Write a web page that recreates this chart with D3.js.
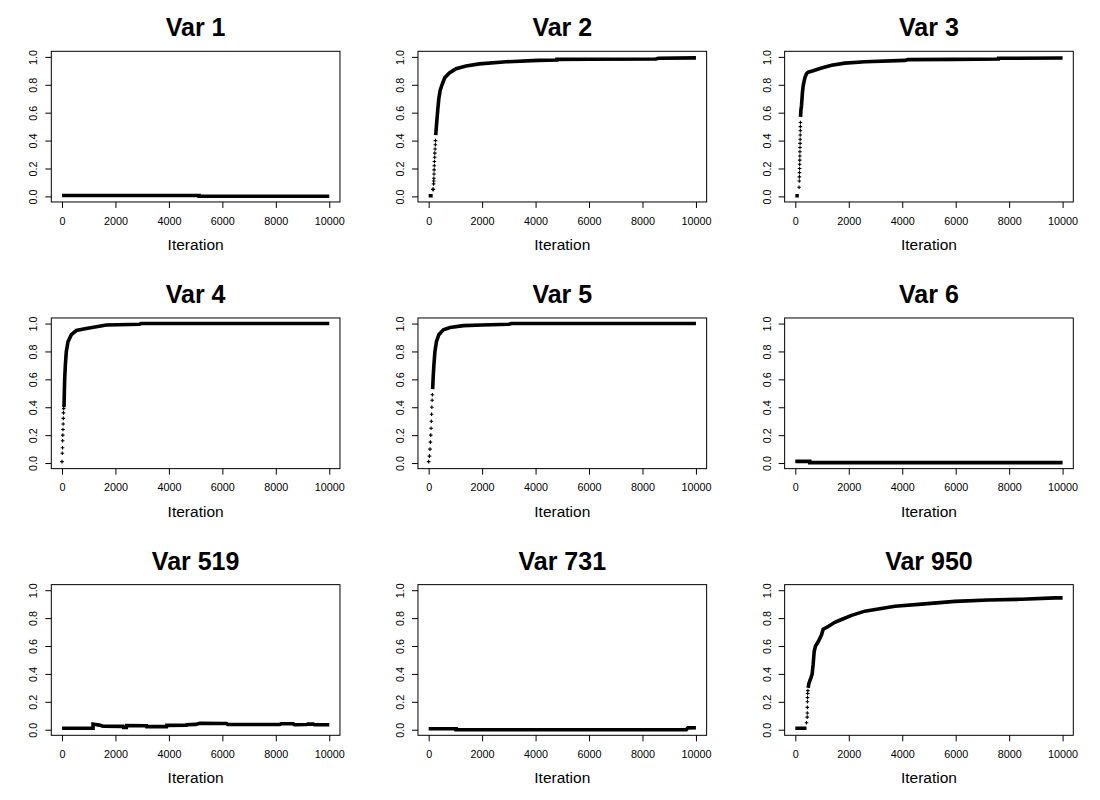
<!DOCTYPE html>
<html>
<head>
<title>Trace plots</title>
<script src="https://d3js.org/d3.v7.min.js"></script>
<style type="text/css">
	body{ margin:0; background:white; }
	text{ font-family: "Liberation Sans", Arial, sans-serif; fill:black; }
	.title{ font-size:25px; font-weight:bold; }
	.tick text{ font-size:10.8px; }
	.xlab{ font-size:15.5px; }
	.box{ fill:none; stroke:black; stroke-width:1; }
	.trace{ fill:none; stroke:black; stroke-width:3.6; }
	.jump{ fill:none; stroke:black; stroke-width:1.1; }
</style>
</head>
<body>
<svg id="grid" width="1100" height="800"></svg>
<script>
// panel titles and axis ticks
var titles = ["Var 1", "Var 2", "Var 3", "Var 4", "Var 5", "Var 6", "Var 519", "Var 731", "Var 950"];
var xTicks = [0, 2000, 4000, 6000, 8000, 10000];
var yTicks = [0, 0.2, 0.4, 0.6, 0.8, 1.0];

// [iteration, value]; null breaks the thick trace
var var1Trace = [[0,0.006],[5130,0.006],[5130,0.001],[10000,0.001]];
var var1Jumps = [];

var var2Trace = [[0,0.005],[150,0.005],null,[265,0.44],[280,0.48],[310,0.55],[340,0.62],[380,0.70],[430,0.76],
	[500,0.80],[600,0.85],[775,0.885],[1025,0.915],[1400,0.935],[1900,0.95],[2900,0.965],[4100,0.975],
	[4800,0.978],[4800,0.982],[6000,0.983],[8500,0.985],[8600,0.99],[10000,0.993]];
var var2Jumps = [[160,0.05],[175,0.05],[185,0.09],[190,0.11],[195,0.13],[200,0.16],[205,0.19],[210,0.22],
	[215,0.25],[225,0.28],[230,0.31],[240,0.34],[250,0.37],[255,0.40]];

var var3Trace = [[0,0.005],[131,0.005],null,[195,0.57],[210,0.62],[231,0.65],[268,0.75],[300,0.80],[356,0.85],
	[420,0.88],[481,0.89],[668,0.90],[980,0.92],[1356,0.94],[1854,0.955],[2603,0.965],[4101,0.975],
	[4200,0.98],[5974,0.982],[7596,0.985],[7600,0.99],[10000,0.992]];
var var3Jumps = [[140,0.065],[148,0.11],[152,0.14],[156,0.17],[160,0.20],[163,0.23],[166,0.26],[169,0.29],
	[172,0.32],[175,0.35],[178,0.38],[181,0.41],[184,0.44],[187,0.47],[190,0.50],[193,0.53]];

var var4Trace = [[75,0.40],[87,0.50],[100,0.60],[125,0.70],[162,0.80],[225,0.87],[350,0.92],[537,0.95],
	[911,0.965],[1660,0.99],[2900,0.995],[2950,1.0],[10000,1.0]];
var var4Jumps = [[0,0.01],[12,0.07],[20,0.11],[25,0.16],[30,0.20],[37,0.24],[45,0.28],[50,0.32],[56,0.36],[62,0.39]];

var var5Trace = [[150,0.53],[170,0.62],[195,0.70],[235,0.80],[290,0.87],[380,0.92],[550,0.955],[800,0.972],
	[1300,0.985],[2000,0.99],[3000,0.995],[3100,1.0],[10000,1.0]];
var var5Jumps = [[0,0.01],[30,0.05],[50,0.10],[65,0.15],[80,0.20],[90,0.25],[100,0.30],[110,0.35],[120,0.40],
	[130,0.45],[140,0.49]];

var var6Trace = [[0,0.012],[540,0.012],[540,0.003],[10000,0.003]];
var var6Jumps = [];

var var519Trace = [[0,0.01],[1161,0.01],[1161,0.04],[1250,0.038],[1400,0.033],[1536,0.025],[2285,0.024],
	[2300,0.017],[2410,0.017],[2420,0.03],[3161,0.029],[3170,0.022],[3910,0.022],[3920,0.031],[4659,0.032],
	[4670,0.036],[5000,0.038],[5157,0.046],[6157,0.045],[6200,0.037],[8154,0.037],[8200,0.043],[8652,0.043],
	[8700,0.036],[9154,0.037],[9200,0.041],[9400,0.04],[9450,0.036],[10000,0.036]];
var var519Jumps = [];

var var731Trace = [[0,0.007],[1025,0.007],[1025,0.0],[9640,0.0],[9700,0.013],[10000,0.014]];
var var731Jumps = [];

var var950Trace = [[0,0.01],[418,0.01],null,[481,0.30],[506,0.33],[560,0.36],[581,0.37],[630,0.40],[668,0.47],
	[705,0.56],[755,0.60],[855,0.63],[980,0.68],[1042,0.72],[1230,0.74],[1479,0.77],[1729,0.79],[2104,0.82],
	[2603,0.85],[3102,0.865],[3727,0.885],[4725,0.90],[5974,0.92],[7222,0.93],[8470,0.935],[9719,0.945],[10000,0.945]];
var var950Jumps = [[418,0.05],[443,0.09],[448,0.12],[450,0.16],[453,0.20],[456,0.23],[460,0.26],[470,0.28]];

var traces = [var1Trace, var2Trace, var3Trace, var4Trace, var5Trace, var6Trace, var519Trace, var731Trace, var950Trace];
var jumps = [var1Jumps, var2Jumps, var3Jumps, var4Jumps, var5Jumps, var6Jumps, var519Jumps, var731Jumps, var950Jumps];

var svg = d3.select("#grid");
var cellW = 1100 / 3, cellH = 800 / 3;
var margin = { top: 51.3, right: 26.7, bottom: 64.7, left: 51.3 };
var w = cellW - margin.left - margin.right;
var h = cellH - margin.top - margin.bottom;

// R pads the range by 4% on each side
var x = d3.scaleLinear().domain([-400, 10400]).range([0, w]);
var y = d3.scaleLinear().domain([-0.04, 1.04]).range([h, 0]);

var line = d3.line()
	.defined(function(d){ return d != null; })
	.x(function(d){ return x(d[0]); })
	.y(function(d){ return y(d[1]); });

titles.forEach(function(t, i){
	var col = i % 3, row = Math.floor(i / 3);
	var g = svg.append("g")
		.attr("transform", "translate(" + (col * cellW + margin.left) + "," + (row * cellH + margin.top) + ")");

	g.append("path")
		.datum(traces[i])
		.attr("class", "trace")
		.attr("d", line);

	g.selectAll(".jump")
		.data(jumps[i])
		.enter()
		.append("path")
		.attr("class", "jump")
		.attr("d", function(d){
			var px = x(d[0]), py = y(d[1]), s = 1.8;
			return "M" + (px - s) + "," + py + "H" + (px + s) + "M" + px + "," + (py - s) + "V" + (py + s);
		});

	g.append("rect")
		.attr("class", "box")
		.attr("width", w)
		.attr("height", h);

	var xAxis = g.append("g")
		.attr("transform", "translate(0," + h + ")")
		.call(d3.axisBottom(x).tickValues(xTicks).tickSize(6).tickPadding(9).tickFormat(d3.format("d")));
	xAxis.select(".domain").remove();

	var yAxis = g.append("g")
		.call(d3.axisLeft(y).tickValues(yTicks).tickSize(6).tickFormat(d3.format(".1f")));
	yAxis.select(".domain").remove();
	yAxis.selectAll(".tick text")
		.attr("transform", "rotate(-90)")
		.attr("x", 0)
		.attr("y", -14)
		.attr("dy", 0)
		.attr("text-anchor", "middle");

	g.append("text")
		.attr("class", "title")
		.attr("x", w / 2)
		.attr("y", -15)
		.attr("text-anchor", "middle")
		.text(t);

	g.append("text")
		.attr("class", "xlab")
		.attr("x", w / 2)
		.attr("y", h + 48)
		.attr("text-anchor", "middle")
		.text("Iteration");
});
</script>
</body>
</html>
